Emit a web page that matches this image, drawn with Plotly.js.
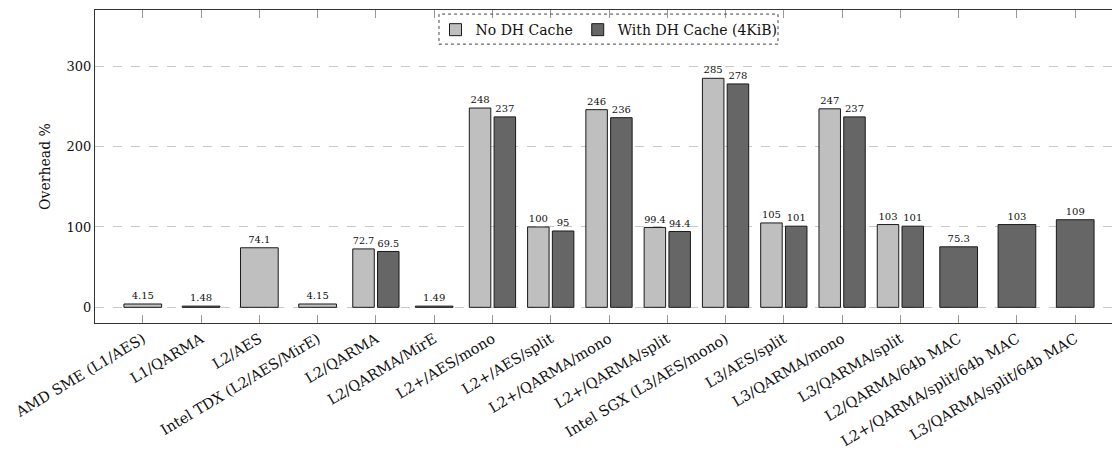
<!DOCTYPE html>
<html>
<head>
<meta charset="utf-8">
<script src="https://cdn.plot.ly/plotly-3.0.1.min.js"></script>
<style>
html, body { margin: 0; padding: 0; overflow: hidden; background: #fff; }
#chart { width: 1130px; height: 449px; }
</style>
</head>
<body>
<div id="chart"></div>
<script>
const categories = [
  "AMD SME (L1/AES)", "L1/QARMA", "L2/AES", "Intel TDX (L2/AES/MirE)", "L2/QARMA",
  "L2/QARMA/MirE", "L2+/AES/mono", "L2+/AES/split", "L2+/QARMA/mono", "L2+/QARMA/split",
  "Intel SGX (L3/AES/mono)", "L3/AES/split", "L3/QARMA/mono", "L3/QARMA/split",
  "L2/QARMA/64b MAC", "L2+/QARMA/split/64b MAC", "L3/QARMA/split/64b MAC"
];
const noCache = [4.15, null, 74.1, 4.15, 72.7, null, 248, 100, 246, 99.4, 285, 105, 247, 103, null, null, null];
const withCache = [null, 1.48, null, null, 69.5, 1.49, 237, 95, 236, 94.4, 278, 101, 237, 101, 75.3, 103, 109];
const yTicks = [0, 100, 200, 300];

const FONT = "DejaVu Serif";
const pairW = 0.369, gap = 0.056, singleW = 0.647;

function geom(own, other, first) {
  const off = [], w = [];
  own.forEach((v, i) => {
    if (other[i] === null) { off.push(-singleW / 2); w.push(singleW); }
    else { off.push(first ? -(pairW + gap / 2) : gap / 2); w.push(pairW); }
  });
  return { off, w };
}
const g1 = geom(noCache, withCache, true);
const g2 = geom(withCache, noCache, false);

const common = {
  type: "bar",
  x: categories,
  texttemplate: "%{y}",
  textposition: "outside",
  cliponaxis: false,
  textfont: { family: FONT, size: 10, color: "#111" },
  hoverinfo: "x+y"
};

const traces = [
  Object.assign({}, common, {
    name: "No DH Cache", y: noCache, offset: g1.off, width: g1.w,
    marker: { color: "#bfbfbf", line: { color: "#1a1a1a", width: 1 } }
  }),
  Object.assign({}, common, {
    name: "With DH Cache (4KiB)", y: withCache, offset: g2.off, width: g2.w,
    marker: { color: "#666666", line: { color: "#1a1a1a", width: 1 } }
  })
];

const layout = {
  width: 1130, height: 449,
  margin: { l: 95, r: 7, t: 10, b: 126 },
  paper_bgcolor: "#fff", plot_bgcolor: "#fff",
  font: { family: FONT, size: 14, color: "#111" },
  barmode: "overlay",
  showlegend: true,
  legend: {
    orientation: "h", x: 0.5, xanchor: "center", y: 0.987, yanchor: "top",
    bgcolor: "rgba(255,255,255,0)", borderwidth: 0,
    font: { family: FONT, size: 14, color: "#111" },
    traceorder: "normal"
  },
  xaxis: {
    type: "category",
    range: [-0.82, 16.82],
    showline: true, linecolor: "#333", linewidth: 1, mirror: "allticks",
    ticks: "inside", ticklen: 8, tickcolor: "#999", tickwidth: 1,
    tickangle: -31, ticklabelstandoff: 1,
    tickfont: { family: FONT, size: 14.5, color: "#111" },
    showgrid: false, zeroline: false
  },
  yaxis: {
    range: [-19.5, 370],
    tickvals: yTicks, ticktext: yTicks.map(String),
    showline: true, linecolor: "#333", linewidth: 1, mirror: true,
    ticks: "", showgrid: true, gridcolor: "#c8c8c8", griddash: "dash", gridwidth: 1,
    zeroline: false,
    tickfont: { family: FONT, size: 13, color: "#111" },
    title: { text: "Overhead %", font: { family: FONT, size: 14, color: "#111" }, standoff: 12 }
  },
  shapes: [{
    type: "rect", xref: "paper", yref: "paper",
    x0: 0.3346, x1: 0.6644, y0: 0.891, y1: 0.987,
    line: { color: "#444", width: 1, dash: "dot" }, fillcolor: "rgba(0,0,0,0)", layer: "above"
  }]
};

Plotly.newPlot("chart", traces, layout, { displayModeBar: false, staticPlot: true });
</script>
</body>
</html>
